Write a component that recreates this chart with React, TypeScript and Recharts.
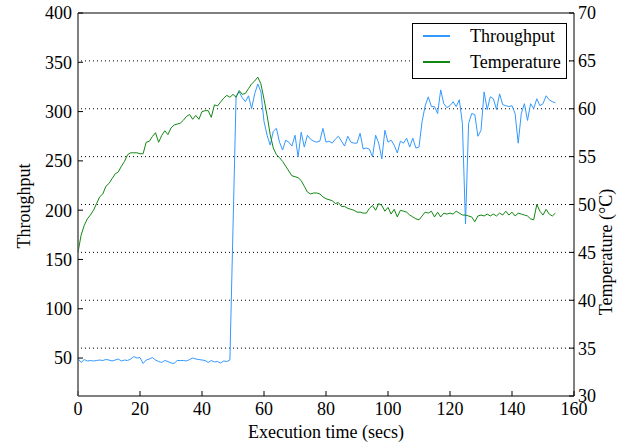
import { LineChart, Line, XAxis, YAxis, ReferenceLine, Legend } from 'recharts';

// one sample per second
const throughput = [
  49.5, 45.5, 48.5, 47, 47.5, 47, 47.5, 48, 47.5, 48.5,
  48, 47, 48, 49, 47, 48, 47.5, 49, 51.5, 50,
  50.5, 44.5, 48, 49, 50.5, 48, 46.5, 45.5, 47.5, 46.5,
  45, 44.5, 47.5, 47.5, 47.5, 47, 48.5, 50, 49, 48.5,
  48, 47.5, 45.5, 47.5, 46, 46.5, 45, 47, 46.5, 48,
  182, 316, 320, 314, 310, 316, 303, 318, 328, 320,
  290, 276, 266, 280, 283, 269, 261, 271, 269, 265,
  276, 254, 279, 264, 276, 272, 270, 269, 270, 283,
  269, 270, 268, 272, 275, 270, 265, 275, 269, 268,
  268, 278, 262, 263, 262, 254, 276, 268, 252, 281,
  269, 271, 266, 258, 270, 268, 273, 264, 273, 263,
  264, 290, 306, 315, 305, 305, 298, 322, 308, 304,
  306, 310, 305, 312, 288, 186, 288, 298, 297, 275,
  281, 320, 302, 315, 313, 302, 318, 307, 306, 305,
  306, 298, 268, 298, 308, 291, 308, 303, 313, 306,
  308, 316, 312, 310, 309,
];

const temperature = [
  45.0, 46.8, 47.8, 48.5, 48.9, 49.4, 50.1, 50.8, 51.1, 51.9,
  52.2, 52.7, 53.2, 53.4, 54.0, 54.5, 55.2, 55.4, 55.4, 55.4,
  55.3, 55.3, 56.5, 56.6, 57.1, 57.5, 56.5, 57.2, 57.7, 57.3,
  58.0, 58.3, 58.4, 58.5, 58.8, 59.2, 59.4, 58.9, 59.3, 58.9,
  59.7, 59.8, 59.8, 59.1, 60.4, 60.3, 60.7, 61.1, 61.4, 61.2,
  61.5, 61.2, 61.9, 61.5, 61.6, 62.1, 62.6, 62.9, 63.3, 62.6,
  61.0, 59.3, 57.3, 55.9, 55.2, 54.9, 54.5, 54.0, 53.5, 53.0,
  52.9, 52.8, 52.5, 51.9, 51.3, 51.1, 51.2, 51.2, 51.1, 50.8,
  50.6, 50.5, 50.4, 50.1, 50.2, 49.8, 49.8, 49.6, 49.5, 49.4,
  49.2, 49.2, 49.1, 49.1, 49.6, 49.9, 49.4, 50.1, 49.9, 49.3,
  49.7, 49.0, 49.5, 48.7, 49.4, 49.3, 49.2, 48.9, 48.7, 48.5,
  48.4, 48.8, 49.2, 49.1, 49.3, 48.7, 49.2, 48.7, 49.1, 49.0,
  49.1, 49.0, 49.3, 49.1, 48.9, 48.9, 48.8, 48.7, 48.2, 48.8,
  48.9, 48.8, 49.0, 48.8, 49.0, 48.8, 49.1, 48.9, 49.3, 48.9,
  49.2, 48.8, 49.1, 49.0, 48.9, 48.8, 48.5, 48.4, 50.0, 49.3,
  48.9, 49.5, 49.0, 48.8, 49.1,
];

const time = throughput.map((_, i) => i);

const seriesNames = ['Throughput', 'Temperature'];
const xTicks = [0, 20, 40, 60, 80, 100, 120, 140, 160];
const leftTicks = [50, 100, 150, 200, 250, 300, 350, 400];
const rightTicks = [30, 35, 40, 45, 50, 55, 60, 65, 70];
const gridTemps = [35, 40, 45, 50, 55, 60, 65];

const data = time.map((t, i) => ({
  t,
  throughput: throughput[i],
  temperature: temperature[i],
}));

const serif = '"Liberation Serif", "Times New Roman", serif';
const tickStyle = { fontSize: 18, fill: '#000', fontFamily: serif };
const black = { stroke: '#000' };

const LegendBox = ({ payload }: any) => {
  const items = [...(payload || [])].sort(
    (a: any, b: any) => seriesNames.indexOf(a.value) - seriesNames.indexOf(b.value)
  );
  return (
    <div
      style={{
        position: 'relative',
        width: 155,
        height: 56,
        boxSizing: 'border-box',
        border: '1px solid #000',
        background: '#fff',
        fontFamily: serif,
        fontSize: 18,
        color: '#000',
      }}
    >
      {items.map((item: any, i: number) => (
        <div
          key={item.value}
          style={{ position: 'absolute', left: 0, top: i * 26 - 1, height: 26, display: 'flex', alignItems: 'center' }}
        >
          <span style={{ display: 'inline-block', width: 27, height: 2, marginLeft: 10, background: item.color }} />
          <span style={{ marginLeft: 20, lineHeight: '18px' }}>{item.value}</span>
        </div>
      ))}
    </div>
  );
};

export default function App() {
  return (
    <div style={{ position: 'absolute', left: 0, top: 0, width: 622, height: 447, background: '#fff' }}>
      <LineChart width={622} height={447} data={data} margin={{ top: 12, right: 0, bottom: 0, left: 0 }}>
        <XAxis
          xAxisId="b"
          dataKey="t"
          type="number"
          domain={[0, 160]}
          ticks={xTicks}
          interval={0}
          height={51}
          tick={tickStyle}
          tickSize={-5}
          tickMargin={11}
          axisLine={black}
          tickLine={black}
          label={() => (
            <text x={326} y={438} textAnchor="middle" fontFamily={serif} fontSize={18} fill="#000">
              Execution time (secs)
            </text>
          )}
        />
        <XAxis
          xAxisId="top"
          orientation="top"
          type="number"
          domain={[0, 160]}
          ticks={xTicks}
          interval={0}
          height={1}
          tick={false}
          tickSize={-5}
          axisLine={black}
          tickLine={black}
        />
        <YAxis
          yAxisId="left"
          type="number"
          domain={[11.5, 400]}
          allowDataOverflow
          ticks={leftTicks}
          interval={0}
          width={78}
          tick={tickStyle}
          tickSize={-5}
          tickMargin={11}
          axisLine={{ stroke: '#555', strokeWidth: 1.5 }}
          tickLine={black}
          label={() => (
            <text
              x={29.5}
              y={206}
              transform="rotate(-90, 29.5, 206)"
              textAnchor="middle"
              fontFamily={serif}
              fontSize={18}
              fill="#000"
            >
              Throughput
            </text>
          )}
        />
        <YAxis
          yAxisId="right"
          orientation="right"
          type="number"
          domain={[30, 70]}
          ticks={rightTicks}
          interval={0}
          width={48}
          tick={tickStyle}
          tickSize={-5}
          tickMargin={9}
          axisLine={black}
          tickLine={black}
          label={() => (
            <text
              x={611.5}
              y={252}
              transform="rotate(-90, 611.5, 252)"
              textAnchor="middle"
              fontFamily={serif}
              fontSize={18}
              fill="#000"
            >
              Temperature (°C)
            </text>
          )}
        />
        {gridTemps.map((g) => (
          <ReferenceLine
            key={g}
            xAxisId="b"
            yAxisId="right"
            y={g}
            stroke="#000"
            strokeDasharray="1 3"
          />
        ))}
        <Line
          xAxisId="b"
          yAxisId="left"
          type="linear"
          dataKey="throughput"
          name="Throughput"
          stroke="#3399ff"
          strokeWidth={1}
          dot={false}
          isAnimationActive={false}
        />
        <Line
          xAxisId="b"
          yAxisId="right"
          type="linear"
          dataKey="temperature"
          name="Temperature"
          stroke="#118811"
          strokeWidth={1}
          dot={false}
          isAnimationActive={false}
        />
        <Legend
          layout="vertical"
          align="center"
          verticalAlign="middle"
          content={<LegendBox />}
          wrapperStyle={{ top: 23, left: 412, width: 155, height: 56 }}
        />
      </LineChart>
    </div>
  );
}
